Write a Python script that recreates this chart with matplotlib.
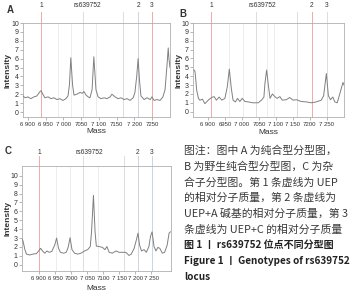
import matplotlib
matplotlib.use("Agg")
import matplotlib.pyplot as plt
import matplotlib.transforms as mtransforms

plt.rcParams['font.family'] = ['Liberation Sans', 'DejaVu Sans']

# ---------------- data ----------------
mass_ticks = [6900, 6950, 7000, 7050, 7100, 7150, 7200, 7250]
A_ticklabels = ["6 900", "6 950", "7 000", "7050", "7 100", "7150", "7 200", "7250"]
B_ticklabels = ["6 900", "6950", "7 000", "7050", "7 100", "7 150", "7200", "7 250"]
C_ticklabels = ["6 900", "6 950", "7000", "7 050", "7100", "7 150", "7 200", "7 250"]

A_mass = [6886, 6892, 6900, 6908, 6917, 6925, 6934, 6937, 6942, 6948, 6957, 6965, 6973,
          6982, 6990, 6999, 7007, 7013, 7017, 7021, 7026, 7030, 7038, 7047, 7053, 7058,
          7064, 7070, 7075, 7081, 7086, 7092, 7098, 7106, 7115, 7123, 7132, 7137, 7146,
          7154, 7163, 7171, 7180, 7188, 7197, 7202, 7207, 7211, 7215, 7219, 7228, 7236,
          7245, 7250, 7256, 7264, 7273, 7281, 7287, 7293, 7296, 7298, 7301]
A_int = [1.8, 1.6, 1.7, 1.5, 1.7, 1.8, 2.3, 2.4, 2.0, 1.6, 1.7, 1.5, 1.6,
         1.4, 1.5, 1.3, 1.5, 1.8, 3.0, 6.1, 3.0, 1.9, 2.0, 2.2, 2.1, 2.3,
         1.9, 1.7, 1.6, 2.5, 6.2, 2.5, 1.7, 1.5, 1.6, 1.5, 1.7, 2.0, 1.7,
         1.5, 1.6, 1.4, 1.5, 1.3, 1.6, 2.2, 4.0, 6.0, 3.5, 1.8, 1.4, 1.6,
         1.4, 1.7, 1.3, 1.4, 1.3, 1.7, 2.5, 5.5, 7.2, 6.0, 5.0]

B_mass = [6859, 6862, 6867, 6872, 6876, 6884, 6891, 6901, 6911, 6918, 6925, 6933, 6941,
          6950, 6957, 6963, 6969, 6974, 6981, 6987, 6994, 7001, 7009, 7019, 7033, 7048,
          7058, 7065, 7068, 7073, 7078, 7083, 7090, 7097, 7104, 7112, 7119, 7131, 7141,
          7151, 7161, 7175, 7190, 7205, 7219, 7234, 7241, 7249, 7255, 7261, 7268, 7274,
          7281, 7290, 7298, 7301]
B_int = [4.7, 4.5, 2.4, 1.5, 1.3, 1.4, 0.9, 1.3, 1.6, 1.7, 1.3, 1.65, 1.3,
         1.5, 2.8, 4.8, 2.6, 1.3, 1.1, 1.5, 1.15, 1.5, 1.15, 1.1, 1.0, 1.0,
         1.3, 1.65, 3.2, 4.7, 3.0, 1.5, 2.0, 1.7, 1.5, 1.7, 1.3, 1.35, 1.6,
         1.3, 1.35, 1.15, 1.1, 1.0, 1.1, 1.3, 1.8, 4.3, 1.8, 1.35, 1.65, 1.1,
         1.0, 2.2, 3.3, 3.0]

C_mass = [6847, 6850, 6856, 6861, 6871, 6881, 6892, 6899, 6905, 6911, 6918, 6925, 6932,
          6940, 6949, 6955, 6961, 6967, 6977, 6985, 6991, 6997, 7003, 7011, 7021, 7031,
          7042, 7052, 7060, 7064, 7070, 7075, 7079, 7088, 7098, 7106, 7112, 7119, 7129,
          7140, 7150, 7160, 7171, 7181, 7188, 7197, 7204, 7209, 7214, 7220, 7228, 7235,
          7243, 7248, 7253, 7259, 7265, 7271, 7277, 7285, 7292, 7300, 7306, 7310]
C_int = [2.9, 2.7, 1.7, 1.2, 1.1, 1.2, 1.25, 1.55, 1.85, 1.55, 1.3, 1.55, 1.4,
         1.5, 2.2, 3.0, 1.85, 1.4, 1.3, 1.4, 1.95, 3.05, 1.7, 1.3, 1.2, 1.3,
         1.55, 1.7, 2.05, 3.7, 7.8, 3.7, 2.1, 2.05, 1.95, 1.7, 2.05, 1.4, 1.3,
         1.55, 1.4, 1.4, 1.4, 1.05, 1.2, 1.85, 2.8, 3.55, 2.2, 1.55, 1.7, 1.4,
         2.05, 3.2, 3.7, 2.05, 1.55, 1.95, 1.85, 1.3, 1.4, 2.2, 3.55, 3.7]

# marker lines (mass, kind, label)
A_markers = [(6937, 'red', '1'), (7055, 'grey', 'rs639752'), (7168, 'grey', ''),
             (7211, 'blue', '2'), (7250, 'red', '3')]
B_markers = [(6909, 'red', '1'), (7041, 'grey', 'rs639752'), (7162, 'grey', ''),
             (7206, 'red', '2'), (7250, 'grey', '3')]
C_markers = [(6900, 'red', '1'), (7036, 'grey', 'rs639752'), (7164, 'grey', ''),
             (7209, 'blue', '2'), (7253, 'blue', '3')]
A_faint = [6984, 7021, 7092]
B_faint = [6962, 7003, 7073, 7094]
C_faint = [6954, 6997, 7085]

caption_lines = [
    "图注：图中 A 为纯合型分型图，",
    "B 为野生纯合型分型图，C 为杂",
    "合子分型图。第 1 条虚线为 UEP",
    "的相对分子质量，第 2 条虚线为",
    "UEP+A 碱基的相对分子质量，第 3",
    "条虚线为 UEP+C 的相对分子质量",
]
title_lines = [
    "图 1 丨 rs639752 位点不同分型图",
    "Figure 1 丨 Genotypes of rs639752",
    "locus",
]

# ---------------- drawing ----------------
W, H = 358, 300
fig = plt.figure(figsize=(W / 100, H / 100), dpi=100)

colors = {'red': '#eeaaaa', 'grey': '#dcdcdc', 'blue': '#cdd4e2'}


def rect(l, t, r, b):
    return [l / W, 1 - b / H, (r - l) / W, (b - t) / H]


def panel(box, mass, inten, xlim, ylim, ticklabels, markers, faint, top_extent,
          label_y, rs_offset, letter, letter_pos, ylabel_x, xlabel_y):
    ax = fig.add_axes(rect(*box))
    for fm in faint:
        ax.axvline(fm, color='#e6e6e6', lw=0.5, zorder=1)
    trans = mtransforms.blended_transform_factory(ax.transData, ax.transAxes)
    for m, kind, lab in markers:
        ax.plot([m, m], [0, 1 + top_extent], transform=trans, clip_on=False,
                color=colors[kind], lw=0.7, zorder=1)
        if lab:
            off = rs_offset if lab.startswith('rs') else 0
            ax.text(m + off, 1 + label_y, lab, transform=trans, ha='center',
                    va='center', fontsize=4.8, color='#333333')
    ax.plot(mass, inten, color='#808080', lw=0.7, zorder=3)
    ax.set_xlim(*xlim)
    ax.set_ylim(*ylim)
    ax.set_xticks(mass_ticks)
    ax.set_xticklabels(ticklabels)
    ax.set_yticks(range(0, 11))
    ax.tick_params(axis='x', labelsize=4.3, length=2, width=0.5, color='#999999',
                   pad=1.5, labelcolor='#333333')
    ax.tick_params(axis='y', labelsize=5.0, length=2, width=0.5, color='#999999',
                   pad=1, labelcolor='#333333')
    for s in ax.spines.values():
        s.set_color('#b0b0b0')
        s.set_linewidth(0.6)
    fig.text(letter_pos[0] / W, 1 - letter_pos[1] / H, letter, fontsize=7,
             fontweight='bold', color='#333333', ha='center', va='center')
    fig.text(ylabel_x / W, 1 - (box[1] + box[3]) / 2 / H, 'Intensity', rotation=90,
             fontsize=6, fontweight='bold', color='#333333', ha='center', va='center')
    fig.text((box[0] + box[2]) / 2 / W, 1 - xlabel_y / H, 'Mass', fontsize=6,
             color='#333333', ha='center', va='center')
    return ax


panel((23, 23, 170, 117), A_mass, A_int, (6886, 7301), (-0.56, 10), A_ticklabels,
      A_markers, A_faint, 0.12, 0.19, 12, 'A', (10, 10), 8, 132)
panel((193, 23, 344, 117), B_mass, B_int, (6856, 7301), (-0.6, 10), B_ticklabels,
      B_markers, B_faint, 0.12, 0.19, 20, 'B', (183, 14), 179, 133)
panel((22, 166, 171, 271), C_mass, C_int, (6847, 7312), (-0.7, 11.1), C_ticklabels,
      C_markers, C_faint, 0.1, 0.13, 20, 'C', (8, 151), 8, 288)

cap_font = ['Noto Sans CJK SC', 'DejaVu Sans']
y0 = 151
for i, line in enumerate(caption_lines):
    fig.text(184 / W, 1 - (y0 + i * 15.7) / H, line, fontsize=7.8, family=cap_font,
             color='#3a3a3a', ha='left', va='center')
for j, line in enumerate(title_lines):
    fig.text(184 / W, 1 - (y0 + (6 + j) * 15.7) / H, line, fontsize=7.2,
             family=cap_font, fontweight='bold', color='#222222', ha='left', va='center')

fig.savefig('out.png', dpi=100)
